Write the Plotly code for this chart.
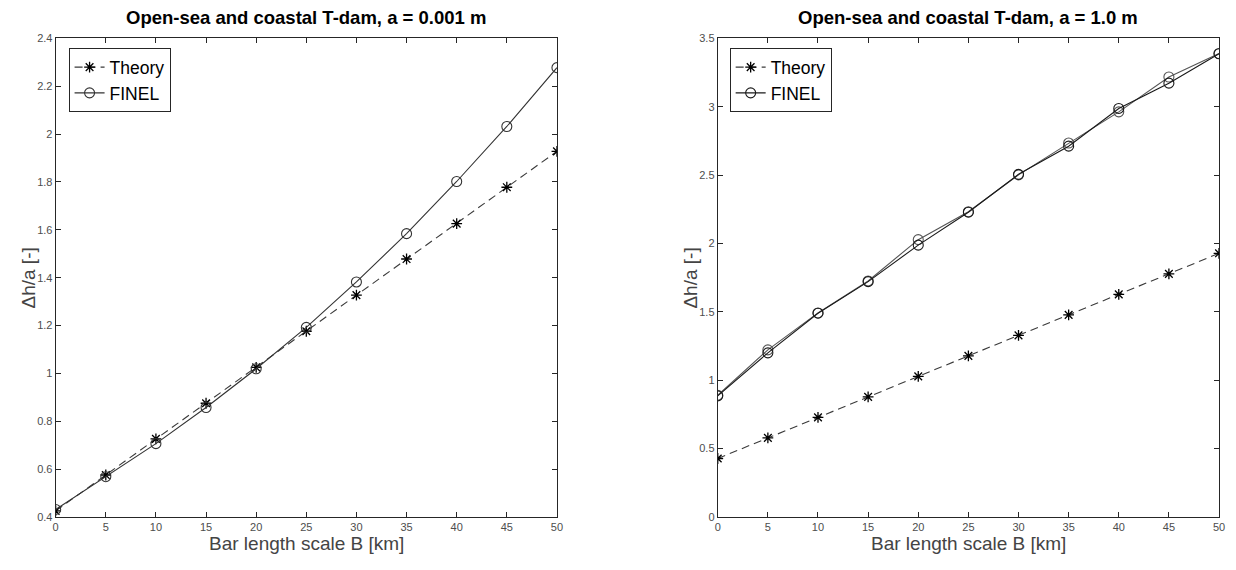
import plotly.graph_objects as go

# ---- data ----
B_km = [0, 5, 10, 15, 20, 25, 30, 35, 40, 45, 50]

# Left panel: a = 0.001 m
theory_left = [0.425, 0.575, 0.726, 0.875, 1.025, 1.176, 1.327, 1.478, 1.626, 1.778, 1.928]
finel_left = [0.431, 0.568, 0.706, 0.857, 1.019, 1.192, 1.382, 1.584, 1.802, 2.032, 2.278]

# Right panel: a = 1.0 m
theory_right = [0.427, 0.578, 0.728, 0.878, 1.028, 1.178, 1.328, 1.478, 1.628, 1.778, 1.928]
finel_right_a = [0.890, 1.222, 1.492, 1.726, 2.028, 2.232, 2.502, 2.735, 2.963, 3.218, 3.390]
finel_right_b = [0.885, 1.200, 1.490, 1.721, 1.988, 2.229, 2.506, 2.712, 2.988, 3.173, 3.388]

left_yticks = [0.4, 0.6, 0.8, 1.0, 1.2, 1.4, 1.6, 1.8, 2.0, 2.2, 2.4]
left_ytext = ["0.4", "0.6", "0.8", "1", "1.2", "1.4", "1.6", "1.8", "2", "2.2", "2.4"]
right_yticks = [0, 0.5, 1.0, 1.5, 2.0, 2.5, 3.0, 3.5]
right_ytext = ["0", "0.5", "1", "1.5", "2", "2.5", "3", "3.5"]
xticks = [0, 5, 10, 15, 20, 25, 30, 35, 40, 45, 50]

titles = ["Open-sea and coastal T-dam, a = 0.001 m", "Open-sea and coastal T-dam, a = 1.0 m"]
xlabel = "Bar length scale B [km]"
ylabel = "Δh/a [-]"

# page has an 8px body margin; figure pixel = page pixel - OFF
OFF = 8
W, H = 1220, 554
FONT = "Liberation Sans, Arial, sans-serif"
AX = "#262626"
TICKC = "#4d4d4d"

# axes boxes in page pixels
L = dict(x0=53, x1=558, y0=33, y1=522)
R = dict(x0=720, x1=1225, y0=33, y1=522)

def px(x):
    return (x - OFF) / W

def py(y):
    return 1 - (y - OFF) / H

def xd(b):
    return [px(b["x0"]), px(b["x1"])]

def yd(b):
    return [py(b["y1"]), py(b["y0"])]

fig = go.Figure()

def theory_trace(y, xa, ya, legend):
    return go.Scatter(
        x=B_km, y=y, xaxis=xa, yaxis=ya, mode="lines+markers", name="Theory",
        legend=legend,
        line=dict(color="#3a3a3a", width=1.1, dash="8px,5px"),
        marker=dict(symbol="asterisk-open", size=9, color="#000000",
                    line=dict(color="#000000", width=1.3)),
    )

def finel_trace(y, xa, ya, legend, color="#333333", show=True):
    return go.Scatter(
        x=B_km, y=y, xaxis=xa, yaxis=ya, mode="lines+markers", name="FINEL",
        legend=legend, showlegend=show,
        line=dict(color=color, width=1.1),
        marker=dict(symbol="circle-open", size=10, color=color,
                    line=dict(color=color, width=1.1)),
    )

fig.add_trace(theory_trace(theory_left, "x", "y", "legend"))
fig.add_trace(finel_trace(finel_left, "x", "y", "legend"))
fig.add_trace(theory_trace(theory_right, "x2", "y2", "legend2"))
fig.add_trace(finel_trace(finel_right_a, "x2", "y2", "legend2", color="#555555", show=False))
fig.add_trace(finel_trace(finel_right_b, "x2", "y2", "legend2", color="#1a1a1a", show=True))

axis_common = dict(
    showgrid=False, zeroline=False, showline=True, linecolor=AX, linewidth=1,
    mirror="ticks", ticks="inside", ticklen=5, tickcolor=AX, tickwidth=1,
    tickfont=dict(family=FONT, size=11, color=TICKC),
)

legend_common = dict(
    xanchor="left", yanchor="top", bgcolor="white", bordercolor=AX, borderwidth=1,
    font=dict(family=FONT, size=17.5, color="#000000"), tracegroupgap=0, itemwidth=30,
)

fig.update_layout(
    width=W, height=H,
    margin=dict(l=0, r=0, t=0, b=0),
    paper_bgcolor="white", plot_bgcolor="white",
    font=dict(family=FONT),
    xaxis=dict(domain=xd(L), range=[0, 50], tickvals=xticks, anchor="y", **axis_common),
    yaxis=dict(domain=yd(L), range=[0.4, 2.4], tickvals=left_yticks, ticktext=left_ytext,
               anchor="x", **axis_common),
    xaxis2=dict(domain=xd(R), range=[0, 50], tickvals=xticks, anchor="y2", **axis_common),
    yaxis2=dict(domain=yd(R), range=[0, 3.5], tickvals=right_yticks, ticktext=right_ytext,
                anchor="x2", **axis_common),
    legend=dict(x=px(66), y=py(43), **legend_common),
    legend2=dict(x=px(732), y=py(43), **legend_common),
    showlegend=True,
)

ann = []
for b, t in [(L, titles[0]), (R, titles[1])]:
    cx = px((b["x0"] + b["x1"]) / 2)
    ann.append(dict(x=cx, y=py(12), xref="paper", yref="paper", text="<b>" + t + "</b>",
                    showarrow=False, xanchor="center", yanchor="middle",
                    font=dict(family=FONT, size=18.5, color="#000000")))
    ann.append(dict(x=cx, y=py(549), xref="paper", yref="paper", text=xlabel,
                    showarrow=False, xanchor="center", yanchor="middle",
                    font=dict(family=FONT, size=19, color="#444444")))
    ann.append(dict(x=px(b["x0"] - 27), y=py((b["y0"] + b["y1"]) / 2), xref="paper",
                    yref="paper", text=ylabel, textangle=-90, showarrow=False,
                    xanchor="center", yanchor="middle",
                    font=dict(family=FONT, size=19, color="#444444")))
fig.update_layout(annotations=ann)

fig.write_html("out.html")
